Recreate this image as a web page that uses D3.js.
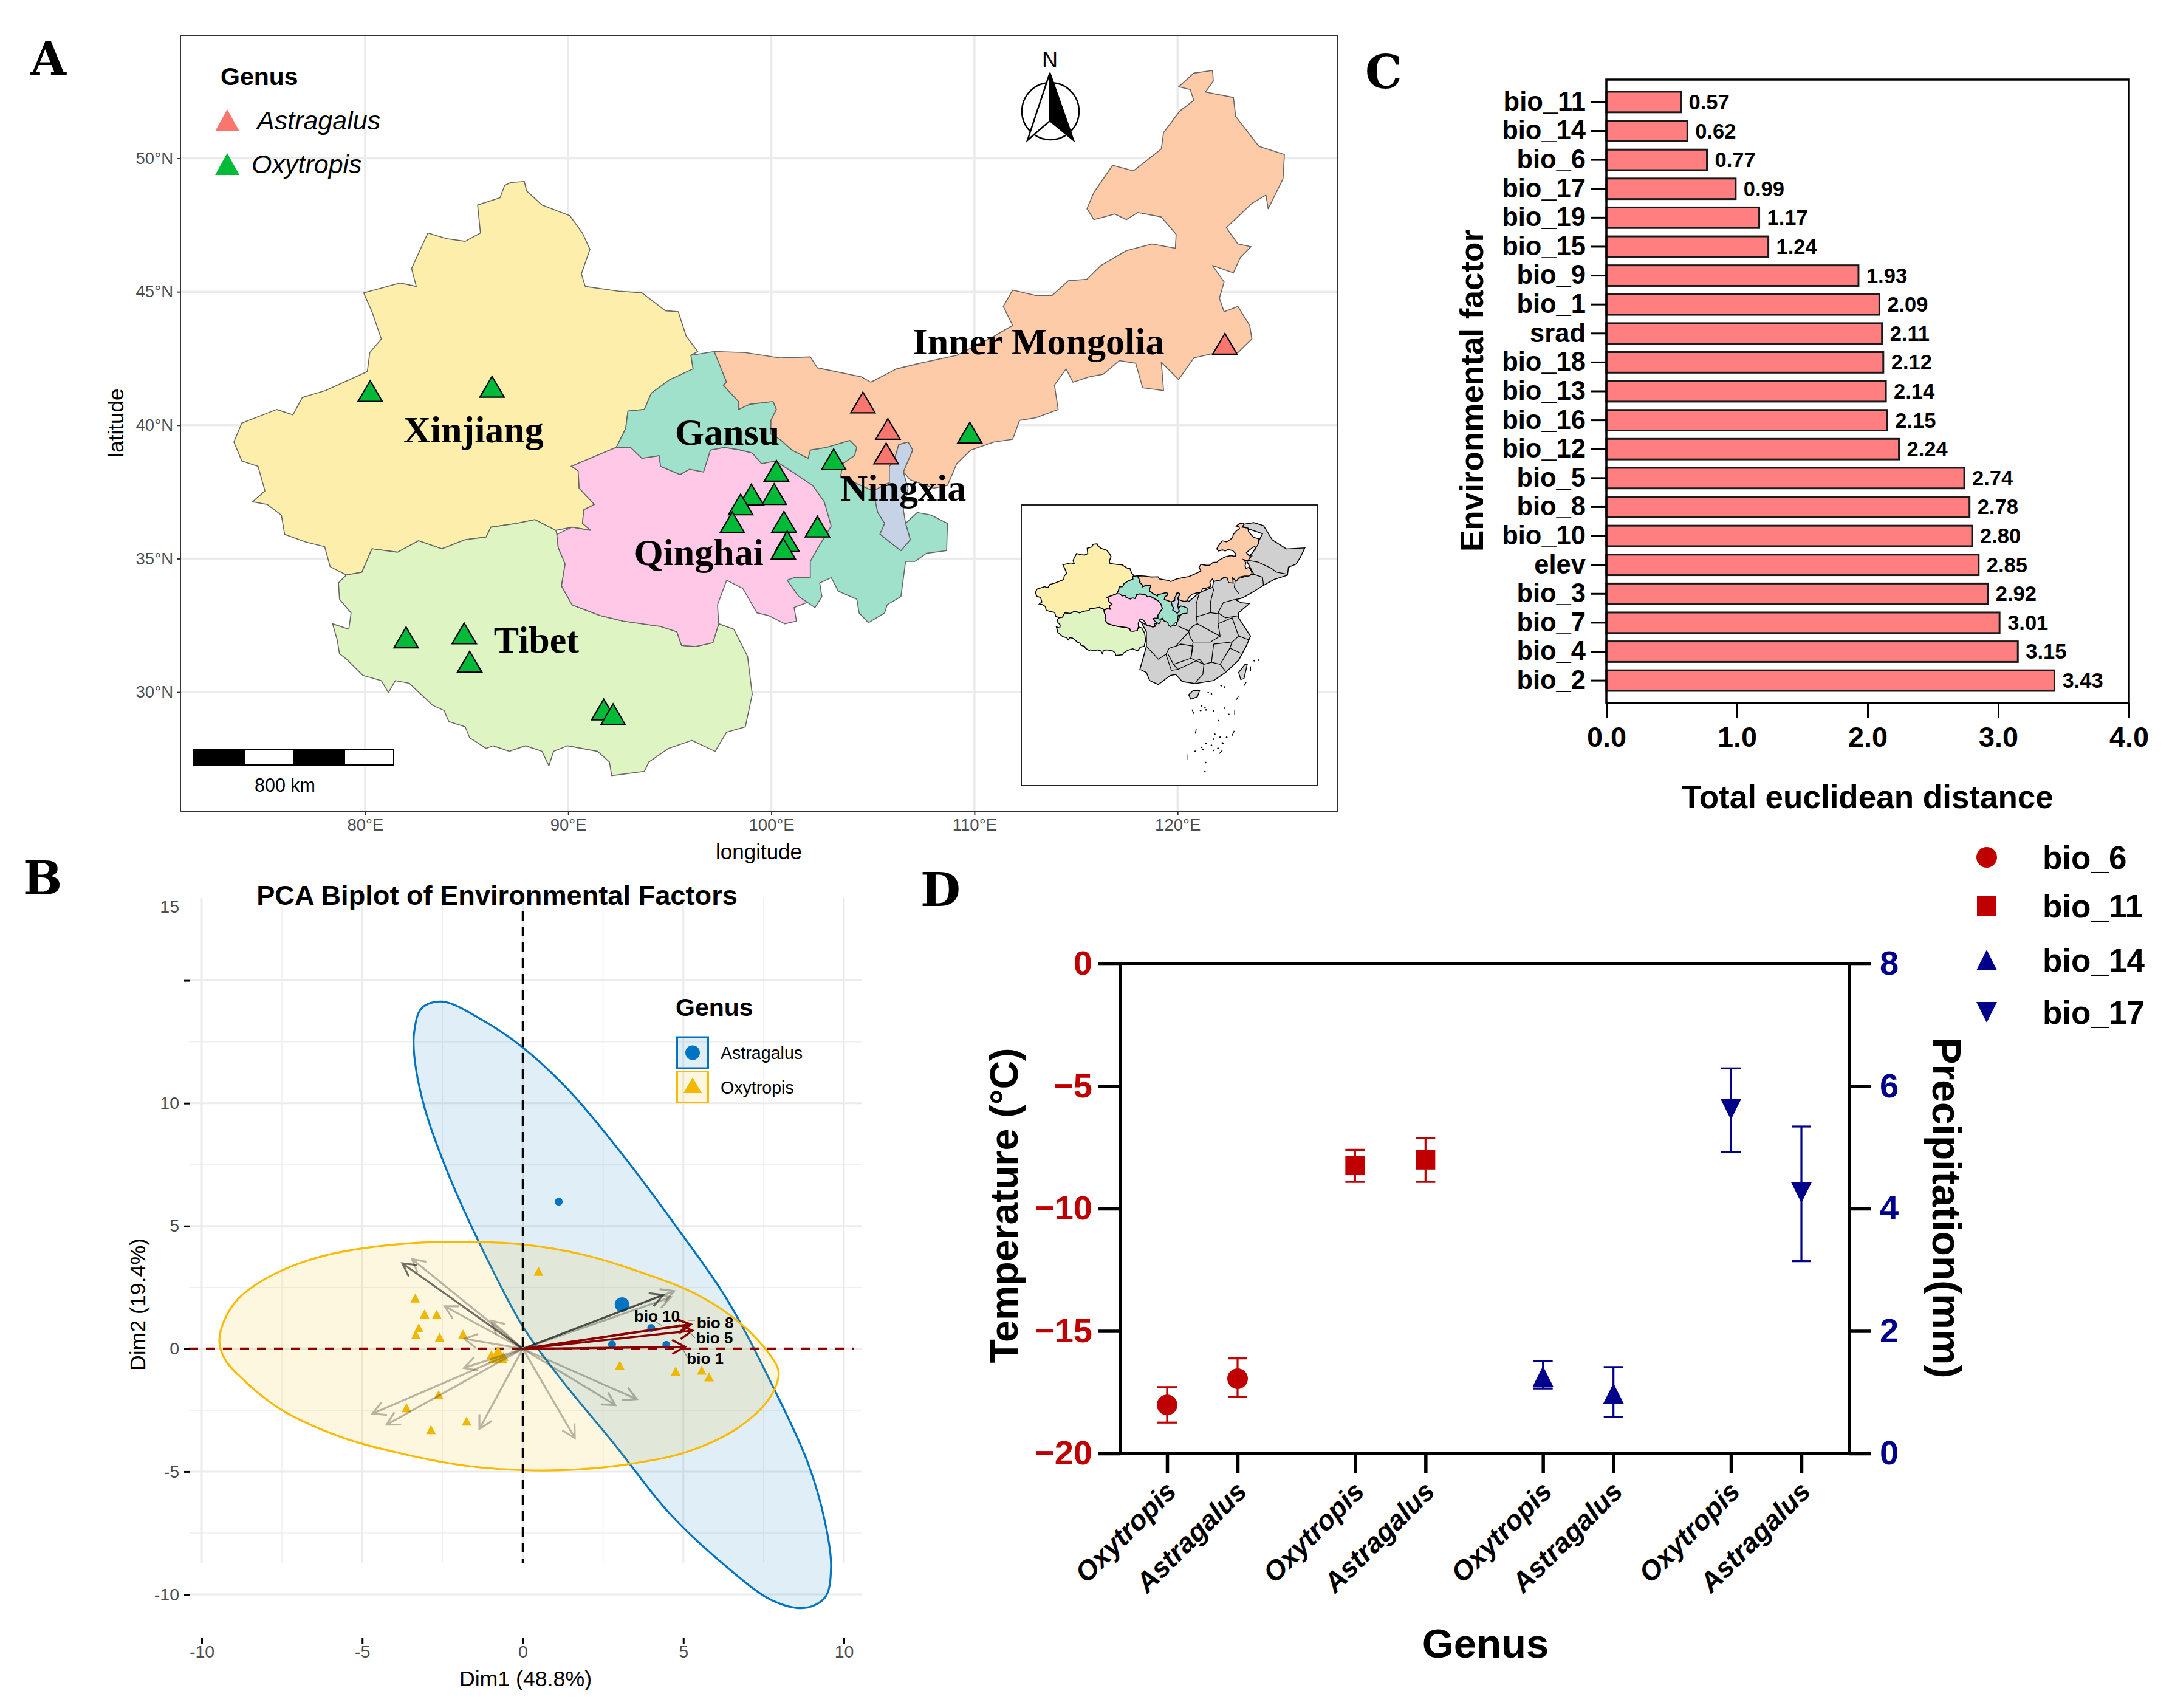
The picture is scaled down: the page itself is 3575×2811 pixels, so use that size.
<!DOCTYPE html>
<html>
<head>
<meta charset="utf-8">
<script src="https://cdn.jsdelivr.net/npm/d3@7"></script>
<style>
  body { margin: 0; background: #fff; }
  text { font-family: "Liberation Sans", Arial, sans-serif; }
</style>
</head>
<body>
<div id="chart"></div>
<script>
// ---------- panel A data, all in [longitude, latitude] ----------
var xinjiang = [[87.17,49.09],[87.84,49.13],[87.95,48.78],[88.71,48.25],[90.08,47.85],[90.70,47.20],[91.07,46.59],[90.65,45.67],[90.84,45.20],[92.49,45.02],[93.63,44.96],[94.78,44.29],[95.42,44.25],[95.81,43.33],[96.38,42.76],[96.04,42.62],[96.15,42.11],[95.01,41.71],[94.09,41.20],[93.75,40.59],[92.94,40.53],[92.83,39.88],[92.37,39.17],[90.15,38.46],[90.49,38.29],[90.54,37.64],[91.29,37.03],[90.77,36.83],[90.70,36.32],[91.11,36.06],[90.19,36.18],[89.39,36.06],[88.36,36.46],[87.45,36.32],[86.19,36.18],[85.96,35.81],[84.93,35.71],[83.78,35.37],[82.63,35.67],[81.60,35.24],[80.34,35.37],[79.84,34.49],[79.08,34.39],[78.28,34.70],[78.01,35.45],[77.14,35.61],[76.04,35.91],[75.88,36.63],[75.19,37.03],[74.46,37.13],[75.07,37.54],[74.73,38.46],[73.93,38.66],[73.54,39.37],[73.93,40.08],[75.65,40.59],[76.45,40.39],[76.91,41.04],[78.05,41.30],[80.11,42.01],[80.23,42.72],[80.80,43.23],[80.34,44.25],[79.93,44.96],[81.72,45.33],[82.52,45.20],[82.29,45.87],[83.09,47.20],[84.01,46.99],[84.93,46.89],[85.68,47.20],[85.54,48.25],[86.64,48.52],[86.87,48.98]];

var tibet = [[78.69,34.09],[79.08,34.39],[79.84,34.49],[80.34,35.37],[81.60,35.24],[82.63,35.67],[83.78,35.37],[84.93,35.71],[85.96,35.81],[86.19,36.18],[87.45,36.32],[88.36,36.46],[89.39,36.06],[89.44,35.91],[89.51,35.41],[89.85,34.80],[89.67,33.98],[90.19,33.27],[91.57,32.87],[92.71,32.66],[94.55,32.46],[95.35,32.26],[95.58,31.75],[96.27,31.71],[97.12,31.85],[97.41,32.56],[98.15,32.36],[98.83,31.34],[99.06,29.92],[98.72,28.70],[97.80,28.50],[97.23,27.78],[96.09,28.19],[94.94,27.89],[93.97,27.38],[93.75,27.03],[92.14,26.87],[92.03,27.38],[91.45,27.78],[89.97,27.99],[89.28,27.78],[89.05,27.24],[88.71,27.78],[87.90,27.99],[87.10,27.78],[86.30,27.99],[85.96,27.89],[85.15,28.29],[84.93,28.70],[84.12,28.90],[83.89,29.31],[83.32,29.51],[82.18,30.33],[81.49,30.43],[81.15,29.98],[80.80,30.43],[79.89,30.63],[79.08,31.24],[78.74,31.44],[78.63,31.95],[78.40,32.56],[79.20,32.36],[79.31,32.97],[78.74,33.48]];

var qinghai = [[92.37,39.17],[90.15,38.46],[90.49,38.29],[90.54,37.64],[91.29,37.03],[90.77,36.83],[90.70,36.32],[91.11,36.06],[90.19,36.18],[89.44,35.91],[89.51,35.41],[89.85,34.80],[89.67,33.98],[90.19,33.27],[91.57,32.87],[92.71,32.66],[94.55,32.46],[95.35,32.26],[95.58,31.75],[96.27,31.71],[97.12,31.85],[97.41,32.56],[97.35,33.27],[97.80,34.19],[98.60,33.88],[99.29,32.97],[99.86,32.87],[100.66,32.56],[101.24,32.66],[101.12,33.17],[101.81,33.37],[101.69,33.58],[100.78,34.19],[101.12,34.29],[101.92,34.29],[101.92,34.90],[102.38,35.51],[102.95,36.22],[102.61,37.13],[102.04,37.74],[101.24,38.15],[100.21,38.66],[99.52,38.56],[99.06,38.96],[98.49,39.07],[97.69,39.17],[97.00,39.07],[96.66,38.25],[95.97,38.35],[95.51,38.15],[94.55,38.46],[94.48,38.86],[93.63,38.76],[93.07,39.17]];

var gansu = [[96.04,42.62],[97.19,42.76],[97.80,41.61],[97.64,41.50],[98.38,40.89],[98.38,40.59],[98.95,40.79],[100.09,40.89],[100.25,40.59],[99.98,40.18],[99.98,39.67],[100.43,39.47],[101.01,39.07],[101.81,38.76],[101.92,39.07],[102.72,39.17],[103.87,39.43],[104.21,39.17],[104.10,38.86],[103.52,38.56],[103.41,38.05],[104.10,37.85],[105.01,37.54],[105.24,36.73],[105.58,36.32],[105.35,35.92],[106.38,35.30],[106.84,35.71],[106.61,36.32],[107.19,36.73],[107.87,36.63],[108.67,36.32],[108.63,35.30],[107.64,35.20],[107.07,34.90],[106.61,34.90],[106.38,33.58],[105.70,33.27],[105.58,32.97],[104.78,32.60],[104.32,32.97],[104.21,33.48],[103.30,33.78],[102.95,34.29],[102.38,34.09],[102.49,33.58],[102.15,33.17],[101.35,33.58],[100.78,34.19],[101.12,34.29],[101.92,34.29],[101.92,34.90],[102.38,35.51],[102.95,36.22],[102.61,37.13],[102.04,37.74],[101.24,38.15],[100.21,38.66],[99.52,38.56],[99.06,38.96],[98.49,39.07],[97.69,39.17],[97.00,39.07],[96.66,38.25],[95.97,38.35],[95.51,38.15],[94.55,38.46],[94.48,38.86],[93.63,38.76],[93.07,39.17],[92.37,39.17],[92.83,39.88],[92.94,40.53],[93.75,40.59],[94.09,41.20],[95.01,41.71],[96.15,42.11]];

var ningxia = [[106.73,39.37],[106.96,39.07],[106.50,38.25],[106.73,37.64],[106.50,36.83],[106.61,36.32],[106.84,35.71],[106.38,35.30],[105.35,35.92],[105.58,36.32],[105.24,36.73],[105.01,37.54],[105.81,37.85],[105.81,38.46],[106.04,38.66],[106.27,39.27]];

var innerMongolia = [[97.19,42.76],[98.72,42.72],[100.43,42.52],[101.92,42.56],[102.27,42.15],[104.44,41.81],[104.90,41.61],[106.16,42.11],[107.30,42.32],[109.13,42.62],[110.96,43.33],[111.88,43.74],[111.42,44.45],[111.88,45.06],[113.02,44.86],[113.82,44.86],[114.62,45.41],[115.54,45.47],[116.22,45.98],[117.48,46.54],[118.74,46.79],[119.89,46.63],[119.93,47.15],[119.20,47.80],[118.05,47.97],[117.48,47.70],[116.91,47.91],[115.88,47.70],[115.54,48.11],[115.88,48.72],[116.80,49.74],[117.83,49.53],[119.20,50.35],[119.31,50.96],[120.11,51.77],[120.80,52.17],[120.62,52.58],[120.05,52.68],[120.80,53.19],[121.72,53.29],[121.76,52.89],[121.37,52.48],[122.75,52.28],[122.86,51.57],[124.00,50.45],[125.26,50.14],[125.19,49.23],[124.46,48.11],[124.35,48.62],[123.66,48.31],[122.40,47.40],[122.97,46.79],[123.62,46.69],[123.09,46.28],[122.75,45.71],[121.72,45.98],[122.29,45.37],[122.06,44.76],[122.29,44.25],[122.97,44.45],[123.55,43.74],[123.66,43.23],[122.97,42.72],[121.95,42.72],[120.80,42.52],[120.05,41.71],[119.20,42.36],[119.31,41.30],[118.28,41.40],[117.94,42.32],[117.14,42.42],[116.34,41.91],[115.65,41.81],[114.85,41.61],[114.51,42.11],[113.94,41.50],[114.12,40.59],[113.02,40.28],[112.22,40.18],[111.88,39.47],[110.96,39.37],[109.82,39.07],[109.13,38.56],[108.67,37.74],[107.99,37.64],[106.84,37.95],[106.50,38.25],[106.96,39.07],[106.73,39.37],[106.27,39.27],[106.04,38.66],[105.81,38.46],[105.81,37.85],[105.01,37.54],[104.10,37.85],[103.41,38.05],[103.52,38.56],[104.10,38.86],[104.21,39.17],[103.87,39.43],[102.72,39.17],[101.92,39.07],[101.81,38.76],[101.01,39.07],[100.43,39.47],[99.98,39.67],[99.98,40.18],[100.25,40.59],[100.09,40.89],[98.95,40.79],[98.38,40.59],[98.38,40.89],[97.64,41.50],[97.80,41.61]];

var provinces = [
  { name: 'Xinjiang', shape: xinjiang, fill: '#FDEEAB', label: [85.34, 39.84] },
  { name: 'Tibet', shape: tibet, fill: '#DFF4C3', label: [88.43, 31.95] },
  { name: 'Qinghai', shape: qinghai, fill: '#FEC8E6', label: [96.43, 35.24] },
  { name: 'Gansu', shape: gansu, fill: '#9FE1CB', label: [97.83, 39.74] },
  { name: 'Inner Mongolia', shape: innerMongolia, fill: '#FDCBA8', label: [113.16, 43.13] },
  { name: 'Ningxia', shape: ningxia, fill: '#C6D3E6', label: [106.5, 37.64] }
];

var oxytropisSites = [[80.25,41.28],[86.25,41.44],[82.02,32.05],[84.88,32.2],[85.15,31.14],[91.75,29.35],[92.21,29.17],[100.25,38.29],[99.02,37.40],[100.14,37.42],[98.49,37.03],[98.08,36.36],[100.62,36.38],[102.27,36.2],[100.78,35.65],[100.59,35.37],[103.07,38.72],[109.77,39.72]];
var astragalusSites = [[122.33,43.05],[104.51,40.85],[105.74,39.86],[105.65,38.94]];

// rest of China for the inset
var restOfChina = [[121.08,52.97],[124.09,53.37],[126.35,52.77],[128.36,49.94],[131.62,48.12],[135.89,48.32],[134.89,46.50],[133.88,45.09],[132.12,44.49],[131.87,42.87],[128.86,42.06],[126.35,40.85],[124.09,39.64],[122.08,38.63],[121.08,38.23],[119.83,38.02],[121.08,37.42],[123.09,37.22],[120.58,35.40],[120.58,34.39],[122.08,32.37],[123.34,30.75],[122.34,28.73],[120.58,25.91],[117.57,23.48],[114.81,21.87],[110.54,21.26],[107.53,21.67],[106.02,23.08],[104.77,22.88],[102.0,21.06],[99.99,21.87],[99.24,23.48],[97.74,24.09],[98.74,27.12],[99.24,28.73],[99.24,31.56],[97.99,33.58],[99.49,32.77],[100.99,32.57],[102.5,34.19],[104.76,33.38],[106.02,32.77],[107.02,34.79],[106.52,36.41],[105.02,37.42],[106.52,39.24],[107.53,39.24],[109.03,37.62],[111.54,39.44],[114.55,40.45],[114.81,41.86],[118.07,42.47],[119.83,42.06],[124.09,43.07],[122.34,45.9],[124.09,47.72],[126.10,51.15],[122.08,52.36]];
var hainan = [[109.03,19.04],[110.04,19.85],[111.54,19.85],[111.04,18.64],[109.53,18.15]];
var taiwan = [[120.58,23.48],[122.08,25.10],[122.58,25.10],[121.83,22.27],[121.08,22.07]];
var innerBorders = [
  [[122.34,45.90],[125.10,45.50],[128.11,44.28],[129.36,43.48],[131.87,43.07]],
  [[124.09,43.07],[126.10,42.47],[126.35,40.85]],
  [[119.83,42.06],[119.58,40.45],[120.58,39.24]],
  [[111.54,39.44],[110.79,37.22],[110.79,34.59],[114.05,35.40],[114.05,37.42],[114.81,40.04],[114.55,40.45]],
  [[115.81,35.40],[117.06,37.42],[119.58,38.02]],
  [[115.81,35.40],[117.57,34.39],[120.58,34.79]],
  [[110.79,34.59],[111.04,33.18],[110.03,32.77],[109.03,31.76],[106.52,32.77]],
  [[114.05,35.40],[115.81,35.2],[115.81,33.18],[116.31,30.75],[114.05,31.76],[111.04,33.18]],
  [[99.24,28.73],[102.0,26.11],[103.76,27.12],[104.51,28.33],[106.02,28.73],[109.03,31.56]],
  [[109.03,31.76],[109.28,30.75],[110.04,29.54],[114.05,29.54],[116.31,30.75]],
  [[110.04,29.54],[109.53,26.31],[112.55,25.10],[114.30,25.51],[114.81,29.14]],
  [[114.81,29.14],[119.07,29.54],[118.57,28.33],[116.31,25.10],[114.30,25.51]],
  [[104.26,27.12],[105.52,25.10],[109.53,26.31],[110.04,28.73],[107.27,29.14],[106.02,28.73]],
  [[105.52,25.10],[106.52,24.09],[111.54,26.11],[112.55,25.10],[112.30,23.08],[110.54,21.46]],
  [[116.31,25.10],[117.57,23.69]],
  [[118.57,28.33],[121.08,27.32]],
  [[119.07,29.54],[120.58,30.75],[123.09,29.94]],
  [[115.81,33.18],[119.07,34.39],[120.58,30.75]],
  [[103.76,27.12],[105.02,23.89],[106.52,24.09]]
];
var dashLine = [
  [[123.34,24.7],[123.34,23.69]],[[122.34,21.54],[121.83,20.86]],[[120.58,18.84],[120.08,18.03]],
  [[119.67,16.01],[119.67,15.0]],[[109.79,16.09],[110.29,15.2]],[[110.79,12.17],[110.54,11.29]],
  [[119.57,11.85],[119.07,10.88]],[[116.81,7.93],[116.06,7.25]],[[108.63,7.13],[108.63,6.04]]
];
var islandDots = [[116.56,20.86],[117.31,20.58],[113.55,19.44],[114.30,19.20],[112.04,16.82],[112.80,16.42],[111.79,15.89],[113.05,16.01],[114.81,15.81],[117.31,16.34],[118.32,15.12],[115.91,13.87],[115.06,11.17],[114.81,10.16],[116.31,10.56],[117.82,10.56],[117.06,9.35],[113.05,9.35],[112.04,8.54],[110.54,7.73],[112.30,8.14],[114.30,8.94],[114.81,7.93],[115.81,8.34],[116.81,9.43],[112.95,5.51],[112.80,3.69],[124.19,25.83],[125.19,25.91]];

// ---------- panel C data ----------
var factors = ['bio_11','bio_14','bio_6','bio_17','bio_19','bio_15','bio_9','bio_1','srad','bio_18','bio_13','bio_16','bio_12','bio_5','bio_8','bio_10','elev','bio_3','bio_7','bio_4','bio_2'];
var distances = [0.57,0.62,0.77,0.99,1.17,1.24,1.93,2.09,2.11,2.12,2.14,2.15,2.24,2.74,2.78,2.80,2.85,2.92,3.01,3.15,3.43];

// ---------- panel B data ----------
var oxyEllipse = [[-9.45,0.3],[-9.3,1.15],[-8.85,2.05],[-7.76,3.03],[-6.13,3.81],[-3.96,4.25],[-1.97,4.36],[0,4.25],[1.83,3.85],[3.63,3.14],[5.44,2.20],[6.89,0.91],[7.79,-0.42],[7.97,-0.98],[7.70,-1.98],[6.71,-3.21],[5.08,-4.21],[3.27,-4.70],[1.65,-4.92],[0.02,-4.94],[-1.79,-4.76],[-3.96,-4.21],[-5.77,-3.54],[-7.58,-2.43],[-8.84,-1.09],[-9.29,-0.4]];
var astEllipse = [[-2.51,14.14],[-3.15,13.87],[-3.38,12.93],[-3.38,11.93],[-3.06,9.82],[-2.33,7.15],[-1.25,4.03],[0,0.91],[1.10,-1.09],[2.91,-3.98],[4.54,-6.66],[6.35,-8.88],[7.79,-10.26],[8.79,-10.55],[9.42,-10.11],[9.60,-8.88],[9.42,-7.10],[8.88,-4.65],[7.79,-1.54],[6.35,2.03],[4.81,4.92],[3.09,7.93],[1.46,10.49],[0,12.27],[-1.25,13.38]];
var oxyPoints = [[-3.35,2.07],[-3.06,1.42],[-2.68,1.40],[-3.24,0.85],[-3.33,0.58],[-2.59,0.47],[-1.86,0.60],[0.49,3.16],[-0.98,-0.24],[-0.74,-0.13],[-0.60,-0.31],[-0.89,-0.38],[3.02,-0.67],[4.76,-0.91],[5.57,-0.87],[5.80,-1.14],[-2.62,-1.87],[-3.62,-2.40],[-1.75,-2.94],[-2.86,-3.29]];
var astPoints = [[1.12,5.99],[2.78,0.18],[4.0,0.85],[4.47,0.16]];
var oxyCentre = [-0.78,-0.25];
var astCentre = [3.09,1.80];
var greyArrows = [[-3.45,3.65],[-2.43,1.73],[-0.98,1.14],[-1.82,0.41],[-1.83,-0.78],[-4.68,-2.64],[-4.24,-3.09],[-1.35,-3.26],[1.62,-3.63],[2.88,-2.29],[3.55,-2.05],[4.71,2.35],[4.61,2.10]];
var darkArrows = [[-3.75,3.48],[4.37,2.19]];
var redArrows = [[5.2,1.0],[5.24,0.99],[5.29,0.74],[5.05,0.08]];
var redLabels = ['bio 10','bio 8','bio 5','bio 1'];
var redLabelPos = [[4.18,1.32],[5.99,1.07],[5.97,0.43],[5.68,-0.40]];
var redLabelLeaders = [[[4.12,1.11],[4.32,0.95]],[[5.16,1.16],[5.36,1.16]],[[5.21,0.66],[5.36,0.45]],[[5.0,-0.04],[5.13,-0.37]]];

// ---------- panel D data ----------
var groups = ['bio_6','bio_11','bio_14','bio_17'];
var genera = ['Oxytropis','Astragalus'];
var bio6Mean = [-18.02,-16.95], bio6Upper = [-17.29,-16.12], bio6Lower = [-18.74,-17.70];
var bio11Mean = [-8.24,-8.01], bio11Upper = [-7.6,-7.12], bio11Lower = [-8.91,-8.91];
var bio14Mean = [1.26,0.98], bio14Upper = [1.51,1.41], bio14Lower = [1.06,0.60];
var bio17Mean = [5.62,4.26], bio17Upper = [6.29,5.34], bio17Lower = [4.92,3.14];

var red = '#C00000', navy = '#00008B';

var svg = d3.select('#chart').append('svg')
  .attr('width', 3575)
  .attr('height', 2811)
  .style('display', 'block');

// helpers
function triPath(w, h) {
  return `M0,${-h / 2}L${w / 2},${h / 2}L${-w / 2},${h / 2}Z`;
}
function downTriPath(w, h) {
  return `M0,${h / 2}L${w / 2},${-h / 2}L${-w / 2},${-h / 2}Z`;
}
function panelLetter(t, x, y) {
  svg.append('text').attr('x', x).attr('y', y).text(t)
    .style('font-family', '"DejaVu Serif"').style('font-weight', 'bold').style('font-size', '76px');
}
panelLetter('A', 50, 123);
panelLetter('B', 38, 1472);
panelLetter('C', 2247, 145);
panelLetter('D', 1515, 1491);

// ==================== A: map ====================
var mapBox = { left: 297, right: 2202, top: 58, bottom: 1335 };
var lonScale = d3.scaleLinear().domain([70.91, 127.89]).range([mapBox.left, mapBox.right]);
var latScale = d3.scaleLinear().domain([25.54, 54.61]).range([mapBox.bottom, mapBox.top]);
var mapGroup = svg.append('g');

var lonTicks = [80, 90, 100, 110, 120], latTicks = [30, 35, 40, 45, 50];
mapGroup.selectAll('.lonGrid').data(lonTicks).enter().append('line')
  .attr('x1', d => lonScale(d)).attr('x2', d => lonScale(d))
  .attr('y1', mapBox.top).attr('y2', mapBox.bottom)
  .attr('stroke', '#ebebeb').attr('stroke-width', 3.5);
mapGroup.selectAll('.latGrid').data(latTicks).enter().append('line')
  .attr('x1', mapBox.left).attr('x2', mapBox.right)
  .attr('y1', d => latScale(d)).attr('y2', d => latScale(d))
  .attr('stroke', '#ebebeb').attr('stroke-width', 3.5);

var mapLine = d3.line().x(d => lonScale(d[0])).y(d => latScale(d[1])).curve(d3.curveLinearClosed);
mapGroup.selectAll('.province').data(provinces).enter().append('path')
  .attr('d', d => mapLine(d.shape))
  .attr('fill', d => d.fill)
  .attr('stroke', '#666')
  .attr('stroke-width', 1.6)
  .attr('stroke-linejoin', 'round');

mapGroup.selectAll('.provinceLabel').data(provinces).enter().append('text')
  .attr('x', d => lonScale(d.label[0]))
  .attr('y', d => latScale(d.label[1]))
  .attr('text-anchor', 'middle')
  .attr('dominant-baseline', 'central')
  .style('font-family', '"Liberation Serif"')
  .style('font-weight', 'bold')
  .style('font-size', '62px')
  .text(d => d.name);

function drawSites(sites, colour) {
  mapGroup.selectAll(null).data(sites).enter().append('path')
    .attr('d', triPath(40, 34))
    .attr('transform', d => `translate(${lonScale(d[0])},${latScale(d[1])})`)
    .attr('fill', colour).attr('stroke', '#000').attr('stroke-width', 2.2).attr('stroke-linejoin', 'miter');
}
drawSites(oxytropisSites, '#00BA38');
drawSites(astragalusSites, '#F8766D');

// frame and axes
mapGroup.append('rect')
  .attr('x', mapBox.left).attr('y', mapBox.top)
  .attr('width', mapBox.right - mapBox.left).attr('height', mapBox.bottom - mapBox.top)
  .attr('fill', 'none').attr('stroke', '#333').attr('stroke-width', 2);

var lonAxis = d3.axisBottom(lonScale).tickValues(lonTicks).tickFormat(d => d + '°E').tickSize(6).tickPadding(6);
var latAxis = d3.axisLeft(latScale).tickValues(latTicks).tickFormat(d => d + '°N').tickSize(6).tickPadding(6);
[mapGroup.append('g').attr('transform', `translate(0,${mapBox.bottom})`).call(lonAxis),
 mapGroup.append('g').attr('transform', `translate(${mapBox.left},0)`).call(latAxis)].forEach(function(a) {
  a.select('.domain').remove();
  a.selectAll('line').attr('stroke', '#333').attr('stroke-width', 2);
  a.selectAll('text').attr('fill', '#4d4d4d').style('font-size', '27.5px').style('font-family', '"Liberation Sans"');
});
mapGroup.append('text').attr('x', 1249).attr('y', 1414).attr('text-anchor', 'middle')
  .style('font-size', '35px').text('longitude');
mapGroup.append('text').attr('transform', 'translate(203,696) rotate(-90)').attr('text-anchor', 'middle')
  .style('font-size', '35px').text('latitude');

// legend
mapGroup.append('text').attr('x', 363).attr('y', 140).style('font-size', '41px').style('font-weight', 'bold').text('Genus');
mapGroup.append('path').attr('d', triPath(40, 36)).attr('transform', 'translate(374,198)').attr('fill', '#F8766D');
mapGroup.append('path').attr('d', triPath(40, 36)).attr('transform', 'translate(374,270)').attr('fill', '#00BA38');
mapGroup.append('text').attr('x', 423).attr('y', 198).attr('dominant-baseline', 'central')
  .style('font-size', '43px').style('font-style', 'italic').text('Astragalus');
mapGroup.append('text').attr('x', 414).attr('y', 270).attr('dominant-baseline', 'central')
  .style('font-size', '43px').style('font-style', 'italic').text('Oxytropis');

// scale bar
var barEdges = [319, 403, 483, 567, 648];
d3.range(4).forEach(function(i) {
  mapGroup.append('rect').attr('x', barEdges[i]).attr('y', 1233)
    .attr('width', barEdges[i + 1] - barEdges[i]).attr('height', 26)
    .attr('fill', i % 2 ? '#fff' : '#000').attr('stroke', '#000').attr('stroke-width', 2);
});
mapGroup.append('text').attr('x', 469).attr('y', 1303).attr('text-anchor', 'middle').style('font-size', '30.5px').text('800 km');

// north arrow
var compass = mapGroup.append('g');
compass.append('text').attr('x', 1728).attr('y', 111).attr('text-anchor', 'middle').style('font-size', '36px').text('N');
compass.append('circle').attr('cx', 1729).attr('cy', 183).attr('r', 47).attr('fill', 'none').attr('stroke', '#000').attr('stroke-width', 2.5);
compass.append('path').attr('d', 'M1728,120L1691,231L1728,199Z').attr('fill', '#fff').attr('stroke', '#000').attr('stroke-width', 2.5);
compass.append('path').attr('d', 'M1728,120L1767,231L1728,199Z').attr('fill', '#000').attr('stroke', '#000').attr('stroke-width', 2.5);

// inset
var insetBox = { left: 1681, right: 2169, top: 831, bottom: 1293 };
var insetLon = d3.scaleLinear().domain([70.3, 138.9]).range([insetBox.left, insetBox.right]);
var insetLat = d3.scaleLinear().domain([0.9, 56.9]).range([insetBox.bottom, insetBox.top]);
var inset = svg.append('g');
inset.append('rect').attr('x', insetBox.left).attr('y', insetBox.top)
  .attr('width', insetBox.right - insetBox.left).attr('height', insetBox.bottom - insetBox.top)
  .attr('fill', '#fff').attr('stroke', '#222').attr('stroke-width', 2);
var insetClosed = d3.line().x(d => insetLon(d[0])).y(d => insetLat(d[1])).curve(d3.curveLinearClosed);
var insetOpen = d3.line().x(d => insetLon(d[0])).y(d => insetLat(d[1]));
inset.append('path').attr('d', insetClosed(restOfChina)).attr('fill', '#d0d0d0').attr('stroke', '#000').attr('stroke-width', 1.6);
inset.selectAll('.border').data(innerBorders).enter().append('path')
  .attr('d', insetOpen).attr('fill', 'none').attr('stroke', '#000').attr('stroke-width', 1.3);
inset.selectAll('.insetProvince').data(provinces).enter().append('path')
  .attr('d', d => insetClosed(d.shape)).attr('fill', d => d.fill).attr('stroke', '#000').attr('stroke-width', 1.6);
inset.append('path').attr('d', insetClosed(hainan)).attr('fill', '#d0d0d0').attr('stroke', '#000').attr('stroke-width', 1.5);
inset.append('path').attr('d', insetClosed(taiwan)).attr('fill', '#d0d0d0').attr('stroke', '#000').attr('stroke-width', 1.5);
inset.selectAll('.dash').data(dashLine).enter().append('path')
  .attr('d', insetOpen).attr('stroke', '#000').attr('stroke-width', 1.4).attr('fill', 'none');
inset.selectAll('.isle').data(islandDots).enter().append('circle')
  .attr('cx', d => insetLon(d[0])).attr('cy', d => insetLat(d[1])).attr('r', 1.3).attr('fill', '#000');

// ==================== C: bars ====================
var barBox = { left: 2644, right: 3504, top: 131, bottom: 1157 };
var distScale = d3.scaleLinear().domain([0, 4]).range([barBox.left, barBox.right]);
var factorScale = d3.scaleBand().domain(factors).range([barBox.top, barBox.bottom]).paddingInner(0.29).paddingOuter(0.42);
var barGroup = svg.append('g');

barGroup.selectAll('.bar').data(factors).enter().append('rect')
  .attr('x', distScale(0))
  .attr('y', d => factorScale(d))
  .attr('width', (d, i) => distScale(distances[i]) - distScale(0))
  .attr('height', factorScale.bandwidth())
  .attr('fill', '#FF7F80').attr('stroke', '#1a1a1a').attr('stroke-width', 3);

barGroup.selectAll('.barValue').data(factors).enter().append('text')
  .attr('x', (d, i) => distScale(distances[i]) + 13)
  .attr('y', d => factorScale(d) + factorScale.bandwidth() / 2)
  .attr('dominant-baseline', 'central')
  .style('font-size', '34.5px').style('font-weight', 'bold')
  .text((d, i) => distances[i].toFixed(2));

barGroup.append('rect').attr('x', barBox.left).attr('y', barBox.top)
  .attr('width', barBox.right - barBox.left).attr('height', barBox.bottom - barBox.top)
  .attr('fill', 'none').attr('stroke', '#000').attr('stroke-width', 3.5);

var distAxis = d3.axisBottom(distScale).tickValues([0, 1, 2, 3, 4]).tickFormat(d3.format('.1f')).tickSize(25).tickSizeOuter(0).tickPadding(14);
var factorAxis = d3.axisLeft(factorScale).tickSize(25).tickSizeOuter(0).tickPadding(9);
[barGroup.append('g').attr('transform', `translate(0,${barBox.bottom})`).call(distAxis).style('--s', '46.8px'),
 barGroup.append('g').attr('transform', `translate(${barBox.left},0)`).call(factorAxis).style('--s', '43.5px')].forEach(function(a) {
  a.select('.domain').remove();
  a.selectAll('line').attr('stroke', '#000').attr('stroke-width', 3);
  a.selectAll('text').style('font-family', '"Liberation Sans"').style('font-weight', 'bold').style('font-size', 'var(--s)');
});
barGroup.append('text').attr('x', 3074).attr('y', 1330).attr('text-anchor', 'middle')
  .style('font-size', '53px').style('font-weight', 'bold').text('Total euclidean distance');
barGroup.append('text').attr('transform', 'translate(2441,643) rotate(-90)').attr('text-anchor', 'middle')
  .style('font-size', '53px').style('font-weight', 'bold').text('Environmental factor');

// ==================== B: PCA biplot ====================
var pcaGroup = svg.append('g');
var dim1 = d3.scaleLinear().domain([-10, 10]).range([332, 1389]);
var dim2 = d3.scaleLinear().domain([-10, 15]).range([2624, 1613.6]);
var gridLeft = 311, gridRight = 1419, gridTop = 1478, gridBottom = 2572;

pcaGroup.selectAll('.vMinor').data([-7.5, -2.5, 2.5, 7.5]).enter().append('line')
  .attr('x1', d => dim1(d)).attr('x2', d => dim1(d)).attr('y1', gridTop).attr('y2', gridBottom)
  .attr('stroke', '#efefef').attr('stroke-width', 1.5);
pcaGroup.selectAll('.hMinor').data([-7.5, -2.5, 2.5, 7.5, 12.5]).enter().append('line')
  .attr('x1', gridLeft).attr('x2', gridRight).attr('y1', d => dim2(d)).attr('y2', d => dim2(d))
  .attr('stroke', '#efefef').attr('stroke-width', 1.5);
pcaGroup.selectAll('.vMajor').data([-10, -5, 0, 5, 10]).enter().append('line')
  .attr('x1', d => dim1(d)).attr('x2', d => dim1(d)).attr('y1', gridTop).attr('y2', gridBottom)
  .attr('stroke', '#ebebeb').attr('stroke-width', 3);
pcaGroup.selectAll('.hMajor').data([-10, -5, 0, 5, 10, 15]).enter().append('line')
  .attr('x1', gridLeft).attr('x2', gridRight).attr('y1', d => dim2(d)).attr('y2', d => dim2(d))
  .attr('stroke', '#ebebeb').attr('stroke-width', 3);

var ellipseLine = d3.line().x(d => dim1(d[0])).y(d => dim2(d[1])).curve(d3.curveCatmullRomClosed.alpha(0.5));
pcaGroup.append('path').attr('d', ellipseLine(astEllipse))
  .attr('fill', '#0073C2').attr('fill-opacity', 0.12).attr('stroke', '#0073C2').attr('stroke-width', 3.2);
pcaGroup.append('path').attr('d', ellipseLine(oxyEllipse))
  .attr('fill', '#EFC000').attr('fill-opacity', 0.12).attr('stroke', '#FBB900').attr('stroke-width', 3.2);

pcaGroup.append('line').attr('x1', dim1(0)).attr('x2', dim1(0)).attr('y1', 1499).attr('y2', gridBottom)
  .attr('stroke', '#000').attr('stroke-width', 3.5).attr('stroke-dasharray', '16 10');
pcaGroup.append('line').attr('x1', gridLeft).attr('x2', 1406).attr('y1', dim2(0)).attr('y2', dim2(0))
  .attr('stroke', '#8B0000').attr('stroke-width', 4).attr('stroke-dasharray', '15 13');

pcaGroup.selectAll('.oxyPt').data(oxyPoints).enter().append('path')
  .attr('d', triPath(16, 15))
  .attr('transform', d => `translate(${dim1(d[0])},${dim2(d[1])})`)
  .attr('fill', '#EFB800');
pcaGroup.selectAll('.astPt').data(astPoints).enter().append('circle')
  .attr('cx', d => dim1(d[0])).attr('cy', d => dim2(d[1])).attr('r', 6.5).attr('fill', '#0073C2');
pcaGroup.append('path').attr('d', triPath(32, 28))
  .attr('transform', `translate(${dim1(oxyCentre[0])},${dim2(oxyCentre[1])})`).attr('fill', '#EFB800');
pcaGroup.append('circle').attr('cx', dim1(astCentre[0])).attr('cy', dim2(astCentre[1])).attr('r', 12).attr('fill', '#0073C2');

// loadings drawn as open arrows from the origin
function drawArrows(ends, colour, opacity, width) {
  var head = 24;
  pcaGroup.selectAll(null).data(ends).enter().append('path')
    .attr('d', function(d) {
      var x0 = dim1(0), y0 = dim2(0), x1 = dim1(d[0]), y1 = dim2(d[1]);
      var a = Math.atan2(y1 - y0, x1 - x0);
      var p = d3.path();
      p.moveTo(x0, y0);
      p.lineTo(x1, y1);
      p.moveTo(x1 - head * Math.cos(a - 0.5), y1 - head * Math.sin(a - 0.5));
      p.lineTo(x1, y1);
      p.lineTo(x1 - head * Math.cos(a + 0.5), y1 - head * Math.sin(a + 0.5));
      return p.toString();
    })
    .attr('fill', 'none').attr('stroke', colour).attr('stroke-opacity', opacity).attr('stroke-width', width);
}
drawArrows(greyArrows, '#4a4438', 0.38, 3.2);
drawArrows(darkArrows, '#111', 0.6, 3.2);
drawArrows(redArrows, '#8B0000', 1, 3.4);

pcaGroup.selectAll('.leader').data(redLabelLeaders).enter().append('line')
  .attr('x1', d => dim1(d[0][0])).attr('y1', d => dim2(d[0][1]))
  .attr('x2', d => dim1(d[1][0])).attr('y2', d => dim2(d[1][1]))
  .attr('stroke', '#888').attr('stroke-width', 1.5);
pcaGroup.selectAll('.redLabel').data(redLabels).enter().append('text')
  .attr('x', (d, i) => dim1(redLabelPos[i][0]))
  .attr('y', (d, i) => dim2(redLabelPos[i][1]))
  .attr('text-anchor', 'middle').attr('dominant-baseline', 'central')
  .style('font-size', '26px').style('font-weight', 'bold').text(d => d);

var dim1Axis = d3.axisBottom(dim1).tickValues([-10, -5, 0, 5, 10]).tickFormat(d3.format('d')).tickSize(9).tickPadding(3);
var dim2Axis = d3.axisLeft(dim2).tickValues([-10, -5, 0, 5, 10, 15]).tickFormat(d3.format('d')).tickSize(10).tickPadding(8);
var dim1G = pcaGroup.append('g').attr('transform', 'translate(0,2696)').call(dim1Axis);
var dim2G = pcaGroup.append('g').attr('transform', 'translate(313,0)').call(dim2Axis);
[dim1G, dim2G].forEach(function(a) {
  a.select('.domain').remove();
  a.selectAll('line').attr('stroke', '#000').attr('stroke-width', 3);
  a.selectAll('text').attr('fill', '#4d4d4d').style('font-family', '"Liberation Sans"').style('font-size', '28.5px');
});
// a hyphen sits where the 15 label would be, the 15 itself is moved above the plot
dim2G.selectAll('.tick').filter(d => d === 15).select('text').attr('y', -121);
dim1G.selectAll('text').text(d => String(d));
dim2G.selectAll('text').text(d => String(d));

pcaGroup.append('text').attr('x', 818).attr('y', 1489).attr('text-anchor', 'middle')
  .style('font-size', '45.2px').style('font-weight', 'bold').text('PCA Biplot of Environmental Factors');
pcaGroup.append('text').attr('x', 865).attr('y', 2775).attr('text-anchor', 'middle').style('font-size', '35.7px').text('Dim1 (48.8%)');
pcaGroup.append('text').attr('transform', 'translate(239,2147) rotate(-90)').attr('text-anchor', 'middle').style('font-size', '35.7px').text('Dim2 (19.4%)');

// legend
pcaGroup.append('text').attr('x', 1112).attr('y', 1672).style('font-size', '41px').style('font-weight', 'bold').text('Genus');
pcaGroup.append('rect').attr('x', 1114.5).attr('y', 1707).attr('width', 51).attr('height', 51)
  .attr('fill', '#0073C2').attr('fill-opacity', 0.12).attr('stroke', '#0073C2').attr('stroke-width', 3);
pcaGroup.append('rect').attr('x', 1114.5).attr('y', 1763.5).attr('width', 51).attr('height', 51)
  .attr('fill', '#EFC000').attr('fill-opacity', 0.12).attr('stroke', '#FBB900').attr('stroke-width', 3);
pcaGroup.append('circle').attr('cx', 1140).attr('cy', 1732.5).attr('r', 12).attr('fill', '#0073C2');
pcaGroup.append('path').attr('d', triPath(30, 26)).attr('transform', 'translate(1140,1786)').attr('fill', '#F5B800');
pcaGroup.append('text').attr('x', 1186).attr('y', 1733).attr('dominant-baseline', 'central').style('font-size', '28.6px').text('Astragalus');
pcaGroup.append('text').attr('x', 1186).attr('y', 1790).attr('dominant-baseline', 'central').style('font-size', '28.6px').text('Oxytropis');

// ==================== D: dual axis points ====================
var dotGroup = svg.append('g');
var dotBox = { left: 1844, right: 3044, top: 1586, bottom: 2392 };
var tempScale = d3.scaleLinear().domain([-20, 0]).range([dotBox.bottom, dotBox.top]);
var precipScale = d3.scaleLinear().domain([0, 8]).range([dotBox.bottom, dotBox.top]);
var xGroup = d3.scalePoint().domain(groups).range([1979, 2907]);
var xGenus = d3.scalePoint().domain(genera).range([-58, 58]);

dotGroup.append('rect').attr('x', dotBox.left).attr('y', dotBox.top)
  .attr('width', dotBox.right - dotBox.left).attr('height', dotBox.bottom - dotBox.top)
  .attr('fill', 'none').attr('stroke', '#000').attr('stroke-width', 5.5);

var tempAxis = d3.axisLeft(tempScale).tickValues([0, -5, -10, -15, -20]).tickSize(36).tickSizeOuter(0).tickPadding(10);
var precipAxis = d3.axisRight(precipScale).tickValues([0, 2, 4, 6, 8]).tickSize(36).tickSizeOuter(0).tickPadding(14);
var tempG = dotGroup.append('g').attr('transform', `translate(${dotBox.left},0)`).call(tempAxis);
var precipG = dotGroup.append('g').attr('transform', `translate(${dotBox.right},0)`).call(precipAxis);
[[tempG, red], [precipG, navy]].forEach(function(pair) {
  var a = pair[0];
  a.select('.domain').remove();
  a.selectAll('line').attr('stroke', '#000').attr('stroke-width', 5.5);
  a.selectAll('text').attr('fill', pair[1]).style('font-family', '"Liberation Sans"').style('font-weight', 'bold').style('font-size', '56px');
});

groups.forEach(function(g) {
  var a = dotGroup.append('g').attr('transform', `translate(${xGroup(g)},${dotBox.bottom})`)
    .call(d3.axisBottom(xGenus).tickSize(32).tickSizeOuter(0));
  a.select('.domain').remove();
  a.selectAll('line').attr('stroke', '#000').attr('stroke-width', 5.5);
  a.selectAll('text')
    .attr('text-anchor', 'end')
    .attr('transform', 'translate(6,54) rotate(-45)')
    .attr('x', 0).attr('y', 0).attr('dy', '0.35em')
    .style('font-family', '"Liberation Sans"')
    .style('font-weight', 'bold').style('font-style', 'italic').style('font-size', '45.5px');
});

var dotSeries = [
  { group: 'bio_6', mean: bio6Mean, upper: bio6Upper, lower: bio6Lower, scale: tempScale, colour: red, mark: 'circle' },
  { group: 'bio_11', mean: bio11Mean, upper: bio11Upper, lower: bio11Lower, scale: tempScale, colour: red, mark: 'square' },
  { group: 'bio_14', mean: bio14Mean, upper: bio14Upper, lower: bio14Lower, scale: precipScale, colour: navy, mark: 'up' },
  { group: 'bio_17', mean: bio17Mean, upper: bio17Upper, lower: bio17Lower, scale: precipScale, colour: navy, mark: 'down' }
];

function drawMark(parent, kind, colour, x, y) {
  if (kind === 'circle') {
    parent.append('circle').attr('cx', x).attr('cy', y).attr('r', 17).attr('fill', colour);
  } else if (kind === 'square') {
    parent.append('rect').attr('x', x - 16).attr('y', y - 16).attr('width', 32).attr('height', 32).attr('fill', colour);
  } else {
    parent.append('path').attr('d', kind === 'up' ? triPath(34, 34) : downTriPath(34, 34))
      .attr('transform', `translate(${x},${y})`).attr('fill', colour);
  }
}

dotSeries.forEach(function(s) {
  genera.forEach(function(g, i) {
    var x = xGroup(s.group) + xGenus(g);
    var top = s.scale(s.upper[i]), bottom = s.scale(s.lower[i]);
    var err = dotGroup.append('g').attr('stroke', s.colour).attr('stroke-width', 3.2);
    err.append('line').attr('x1', x).attr('x2', x).attr('y1', top).attr('y2', bottom);
    err.append('line').attr('x1', x - 16).attr('x2', x + 16).attr('y1', top).attr('y2', top);
    err.append('line').attr('x1', x - 16).attr('x2', x + 16).attr('y1', bottom).attr('y2', bottom);
    drawMark(dotGroup, s.mark, s.colour, x, s.scale(s.mean[i]));
  });
});

dotGroup.append('text').attr('x', 2445).attr('y', 2728).attr('text-anchor', 'middle')
  .style('font-size', '67px').style('font-weight', 'bold').text('Genus');
dotGroup.append('text').attr('transform', 'translate(1675,1984) rotate(-90)').attr('text-anchor', 'middle')
  .style('font-size', '64.5px').style('font-weight', 'bold').text('Temperature (°C)');
dotGroup.append('text').attr('transform', 'translate(3181,1988) rotate(90)').attr('text-anchor', 'middle')
  .style('font-size', '66px').style('font-weight', 'bold').text('Precipitation(mm)');

// legend
var legendY = [1411, 1491, 1580, 1666];
dotSeries.forEach(function(s, i) {
  drawMark(dotGroup, s.mark, s.colour, 3270, legendY[i]);
  dotGroup.append('text').attr('x', 3362).attr('y', legendY[i]).attr('dominant-baseline', 'central')
    .style('font-size', '53px').style('font-weight', 'bold').text(s.group);
});
</script>
</body>
</html>
